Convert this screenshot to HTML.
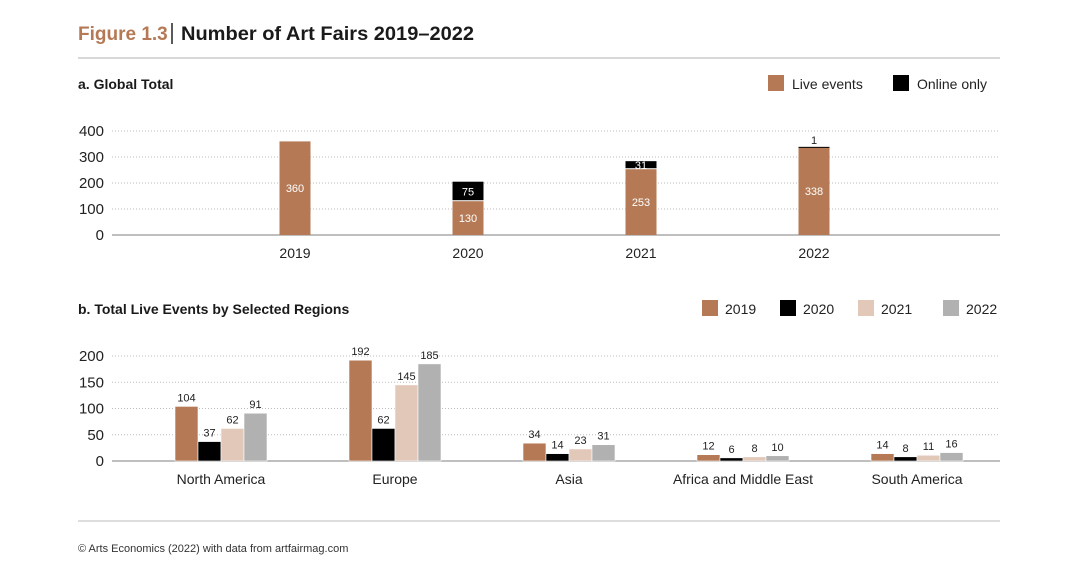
<!DOCTYPE html>
<html><head><meta charset="utf-8"><style>
body{margin:0;background:#fff;width:1080px;height:569px;overflow:hidden;font-family:"Liberation Sans",sans-serif}
svg text{font-family:"Liberation Sans",sans-serif}
</style></head><body>
<svg id="c" width="1080" height="569">
<text x="78" y="40" font-size="19" font-weight="bold" fill="#b57a55">Figure 1.3</text>
<line x1="172" y1="23" x2="172" y2="44" stroke="#222" stroke-width="1.5"/>
<text x="181" y="40" font-size="19" font-weight="bold" fill="#1a1a1a" textLength="293" lengthAdjust="spacingAndGlyphs">Number of Art Fairs 2019–2022</text>
<line x1="78" y1="58" x2="1000" y2="58" stroke="#ccc" stroke-width="1.5"/>
<text x="78" y="89" font-size="14" font-weight="bold" fill="#1a1a1a">a. Global Total</text>
<text x="78" y="314" font-size="14" font-weight="bold" fill="#1a1a1a">b. Total Live Events by Selected Regions</text>
<line x1="78" y1="521" x2="1000" y2="521" stroke="#bbb"/>
<text x="78" y="552" font-size="11" fill="#333">© Arts Economics (2022) with data from artfairmag.com</text>
<g id="a"></g><g id="b"></g>
</svg>
<script>
const years=["2019","2020","2021","2022"];
const liveEvents=[360,130,253,338];
const onlineOnly=[0,75,31,1];
const aTicks=[0,100,200,300,400];
const regions=["North America","Europe","Asia","Africa and Middle East","South America"];
const r2019=[104,192,34,12,14];
const r2020=[37,62,14,6,8];
const r2021=[62,145,23,8,11];
const r2022=[91,185,31,10,16];
const bTicks=[0,50,100,150,200];
const NS="http://www.w3.org/2000/svg";
function el(p,t,a){const e=document.createElementNS(NS,t);for(const k in a)e.setAttribute(k,a[k]);p.appendChild(e);return e;}
const A=document.getElementById('a'),B=document.getElementById('b');
// panel a
const ya=v=>235-v*0.26, xa=i=>295+i*173;
aTicks.forEach(t=>{
 if(t>0){const l=el(A,'line',{x1:112,x2:1000,y1:ya(t),y2:ya(t),stroke:'#bbb','stroke-dasharray':'1,2'});
 
 }
 const tx=el(A,'text',{x:104,y:ya(t)+5,'text-anchor':'end','font-size':15,fill:'#222'});tx.textContent=t;
 
 
});
let ax=el(A,'line',{x1:112,x2:1000,y1:235,y2:235,stroke:'#aaa','stroke-width':1.5});


years.forEach((y,i)=>{
 const x=xa(i)-15.5;
 const r=el(A,'rect',{x:x,y:ya(liveEvents[i]),width:31,height:liveEvents[i]*0.26,fill:'#b57a55'});
 
 
 const lt=el(A,'text',{x:xa(i),y:ya(liveEvents[i]/2)+4,'text-anchor':'middle','font-size':11,fill:'#fff'});lt.textContent=liveEvents[i];
 
 
 if(onlineOnly[i]>0){
  const top=liveEvents[i]+onlineOnly[i];
  const o=el(A,'rect',{x:x,y:ya(top),width:31,height:Math.max(onlineOnly[i]*0.26-1,1),fill:'#000'});
  
  
  const small=onlineOnly[i]<10;
  const ot=el(A,'text',{x:xa(i),y:small?ya(top)-3:ya(liveEvents[i]+onlineOnly[i]/2)+4,'text-anchor':'middle','font-size':11,fill:small?'#222':'#fff'});ot.textContent=onlineOnly[i];
  
  
 }
 const xt=el(A,'text',{x:xa(i),y:258,'text-anchor':'middle','font-size':14,fill:'#222'});xt.textContent=y;
 
 
});
[[768,'#b57a55','Live events'],[893,'#000','Online only']].forEach(([x,c,t])=>{
 const g=el(A,'g',{});
 
 
 el(g,'rect',{x:x,y:75,width:16,height:16,fill:c});
 const tx=el(g,'text',{x:x+24,y:89,'font-size':14,fill:'#222'});tx.textContent=t;
});
// panel b
const yb=v=>461-v*0.525, xb=i=>221+i*174;
bTicks.forEach(t=>{
 if(t>0){const l=el(B,'line',{x1:112,x2:1000,y1:yb(t),y2:yb(t),stroke:'#bbb','stroke-dasharray':'1,2'});
 
 }
 const tx=el(B,'text',{x:104,y:yb(t)+5,'text-anchor':'end','font-size':15,fill:'#222'});tx.textContent=t;
 
 
});
let bx=el(B,'line',{x1:112,x2:1000,y1:461,y2:461,stroke:'#aaa','stroke-width':1.5});


const series=[r2019,r2020,r2021,r2022], cols=['#b57a55','#000','#e2c8b9','#b1b1b1'];
regions.forEach((r,i)=>{
 series.forEach((s,j)=>{
  const x=xb(i)-46+j*23;
  const rc=el(B,'rect',{x:x,y:yb(s[i]),width:23,height:s[i]*0.525,fill:cols[j],stroke:'#fff','stroke-width':0.6});
  
  
  const t=el(B,'text',{x:x+11.5,y:yb(s[i])-5,'text-anchor':'middle','font-size':11,fill:'#222'});t.textContent=s[i];
  
  
 });
 const xt=el(B,'text',{x:xb(i),y:484,'text-anchor':'middle','font-size':14,fill:'#222'});xt.textContent=r;
 
 
});
[[702,'2019'],[780,'2020'],[858,'2021'],[943,'2022']].forEach(([x,t],j)=>{
 const g=el(B,'g',{});
 
 
 el(g,'rect',{x:x,y:300,width:16,height:16,fill:cols[j]});
 const tx=el(g,'text',{x:x+23,y:314,'font-size':14,fill:'#222'});tx.textContent=t;
});
</script>
</body></html>
